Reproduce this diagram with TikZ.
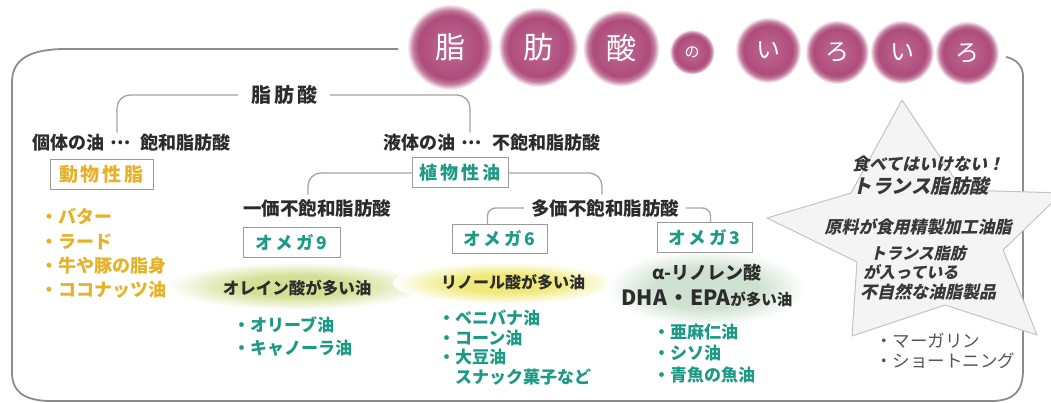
\documentclass[tikz,border=0pt]{standalone}
\usepackage{fontspec}
\setmainfont{Noto Sans CJK JP}
\newfontfamily\jpsl{Noto Sans CJK JP}[FakeSlant=0.22]
\definecolor{bubA}{HTML}{BF6892}
\definecolor{bubB}{HTML}{AE4C7B}
\definecolor{bubC}{HTML}{C27A9C}
\definecolor{glowG}{HTML}{D3E095}
\definecolor{glowY}{HTML}{F0E97A}
\definecolor{glowT}{HTML}{CFE1D0}
\definecolor{goldc}{HTML}{E6B22A}
\definecolor{tealc}{HTML}{1C9A86}
\definecolor{txt}{HTML}{2C2C2C}
\definecolor{linegray}{HTML}{A4A4A4}
\definecolor{framegray}{HTML}{8C8C8C}
\definecolor{boxgray}{HTML}{9A9A9A}
\definecolor{startxt}{HTML}{383838}
\definecolor{greyt}{HTML}{555555}
\definecolor{starfill}{HTML}{F5F4F5}
\definecolor{stardraw}{HTML}{C4C4C4}
\pgfdeclareradialshading{bubble}{\pgfpointorigin}{color(0bp)=(bubA); color(18.5bp)=(bubB); color(21.5bp)=(bubC); color(25bp)=(white); color(50bp)=(white)}
\pgfdeclareradialshading{glowg}{\pgfpointorigin}{color(0bp)=(glowG); color(11bp)=(glowG); color(25bp)=(white); color(50bp)=(white)}
\pgfdeclareradialshading{glowy}{\pgfpointorigin}{color(0bp)=(glowY); color(11bp)=(glowY); color(25bp)=(white); color(50bp)=(white)}
\pgfdeclareradialshading{glowt}{\pgfpointorigin}{color(0bp)=(glowT); color(13bp)=(glowT); color(25bp)=(white); color(50bp)=(white)}
\begin{document}
\begin{tikzpicture}[x=1pt,y=-1pt,
  every node/.style={inner sep=0pt},
  bub/.style={circle, shade, shading=bubble, text=white, font=\fontsize{30}{30}\selectfont},
  lab/.style={text=txt, font=\bfseries\fontsize{18.5}{20}\selectfont, text height=16.3pt, text depth=2.2pt},
  boxed/.style={draw=boxgray, line width=1pt, fill=white, text height=15pt, text depth=2pt, font=\bfseries\fontsize{17.5}{20}\selectfont},
  goldi/.style={anchor=west, text=goldc, font=\bfseries\fontsize{18}{20}\selectfont, text height=15.8pt, text depth=2.2pt},
  teali/.style={anchor=west, text=tealc, font=\bfseries\fontsize{17}{20}\selectfont, text height=15pt, text depth=2pt},
  greyi/.style={anchor=west, text=greyt, font=\fontsize{17.5}{20}\selectfont, text height=15.4pt, text depth=2.1pt},
  glowtxt/.style={text=txt, font=\bfseries\fontsize{16.5}{20}\selectfont, text height=14.5pt, text depth=2pt},
  brk/.style={draw=linegray, line width=1.3pt, rounded corners=13pt},
  brks/.style={draw=linegray, line width=1.3pt, rounded corners=8pt},
  frm/.style={draw=framegray, line width=1.8pt},
  sttxt/.style={text=startxt, font=\jpsl\bfseries\fontsize{17}{20}\selectfont, text height=15pt, text depth=2pt},
]
\useasboundingbox (0,0) rectangle (1051,403);
\clip (0,0) rectangle (1051,403);
\fill[white] (0,0) rectangle (1051,403);

% frame
\draw[frm] (398,49) -- (66,49) .. controls (32,49) and (12,58) .. (12,82)
  -- (12,372) .. controls (12,392) and (24,400) .. (48,401)
  -- (994,401) .. controls (1014,400) and (1023,391) .. (1023,370)
  -- (1023,76) .. controls (1023,66) and (1016,59) .. (1006,57);

% star
\filldraw[fill=starfill, draw=stardraw, line width=1pt, line join=round]
  (902,100) -- (851,193) -- (767,218) -- (857,262) -- (852,336) -- (945,305)
  -- (1037,335) -- (1003,250) -- (1062,193) -- (962,190) -- cycle;

% title bubbles
\node[bub, minimum size=86pt] (b1) at (450,47) {脂};
\node[bub, minimum size=80pt] (b2) at (538,47) {肪};
\node[bub, minimum size=77pt] (b3) at (621,48) {酸};
\node[bub, minimum size=45pt, font=\fontsize{15}{15}\selectfont] (b4) at (692,52) {の};
\node[bub, minimum size=66pt, font=\fontsize{24}{24}\selectfont] (b5) at (768,50) {い};
\node[bub, minimum size=64pt, font=\fontsize{24}{24}\selectfont] (b6) at (837,52) {ろ};
\node[bub, minimum size=64pt, font=\fontsize{24}{24}\selectfont] (b7) at (902,52) {い};
\node[bub, minimum size=64pt, font=\fontsize{24}{24}\selectfont] (b8) at (967,53) {ろ};

% glows
\shade[shading=glowg] (297,286) ellipse[x radius=130, y radius=24];
\shade[shading=glowy] (505,283) ellipse[x radius=112, y radius=21];
\shade[shading=glowt] (706,288) ellipse[x radius=100, y radius=38];

% top level
\node[lab, font=\bfseries\fontsize{20}{22}\selectfont, text height=17.6pt, text depth=2.4pt, inner xsep=13pt] (fa) at (284,95) {脂\kern3pt 肪\kern3pt 酸};
\node[lab, font=\bfseries\fontsize{18}{20}\selectfont, anchor=west] (solid) at (32,142) {個体の油};
\node[lab, font=\bfseries\fontsize{18}{20}\selectfont] (d1) at (121,142) {\raisebox{5pt}{…}};
\node[lab, font=\bfseries\fontsize{18}{20}\selectfont, anchor=west] (sat) at (140,142) {飽和脂肪酸};
\node[lab, font=\bfseries\fontsize{18}{20}\selectfont, anchor=west] (liq) at (383,142) {液体の油};
\node[lab, font=\bfseries\fontsize{18}{20}\selectfont] (d2) at (472,142) {\raisebox{5pt}{…}};
\node[lab, font=\bfseries\fontsize{18}{20}\selectfont, anchor=west] (unsat) at (492,142) {不飽和脂肪酸};

\draw[brk] (fa.west) -| ([xshift=-4pt]d1.north);
\draw[brk] (fa.east) -| ([xshift=-2pt]d2.north);

% boxes
\node[boxed, minimum width=103pt, minimum height=30pt, text=goldc, font=\bfseries\fontsize{19}{20}\selectfont] (ani) at (101.5,175) {動\kern3pt 物\kern3pt 性\kern3pt 脂};
\node[boxed, minimum width=96pt, minimum height=30pt, text=tealc, font=\bfseries\fontsize{18}{20}\selectfont] (veg) at (460,173) {植\kern3pt 物\kern3pt 性\kern3pt 油};

\node[lab] (mono) at (317,208) {一価不飽和脂肪酸};
\node[lab, inner xsep=7pt] (poly) at (605,208) {多価不飽和脂肪酸};

\draw[brk] (veg.west) -| ([xshift=-9pt,yshift=4pt]mono.north);
\draw[brk] (veg.east) -| ([xshift=-3pt,yshift=4pt]poly.north);

\node[boxed, minimum width=97pt, minimum height=29pt, text=tealc] (o9) at (291.5,242.5) {オ\kern3pt メ\kern3pt ガ\kern3pt 9};
\node[boxed, minimum width=95pt, minimum height=28pt, text=tealc] (o6) at (499.5,239) {オ\kern3pt メ\kern3pt ガ\kern3pt 6};
\node[boxed, minimum width=95pt, minimum height=29pt, text=tealc] (o3) at (704.5,237.5) {オ\kern3pt メ\kern3pt ガ\kern3pt 3};

\draw[brks] (poly.west) -| ([xshift=-12pt]o6.north);
\draw[brks] (poly.east) -| ([xshift=6pt]o3.north);

% glow texts
\node[glowtxt] (g9) at (297,288) {オレイン酸が多い油};
\node[glowtxt, font=\bfseries\fontsize{16}{20}\selectfont] (g6) at (513,282) {リノール酸が多い油};
\node[glowtxt, font=\bfseries\fontsize{18}{20}\selectfont, text height=15.8pt, text depth=2.2pt] (g3a) at (707,273) {α-リノレン酸};
\node[glowtxt, font=\bfseries\fontsize{21}{22}\selectfont, text height=18pt, text depth=2.5pt] (g3b) at (707,298) {DHA\kern1pt・\kern1pt EPA{\fontsize{15.5}{20}\selectfont が多い油}};

% gold list
\node[goldi] (a1) at (40,217) {・バター};
\node[goldi] (a2) at (40,242) {・ラード};
\node[goldi] (a3) at (40,266) {・牛や豚の脂身};
\node[goldi] (a4) at (40,290) {・ココナッツ油};

% omega 9 list
\node[teali] (n1) at (233,325) {・オリーブ油};
\node[teali] (n2) at (233,348) {・キャノーラ油};

% omega 6 list
\node[teali] (s1) at (438,318) {・ベニバナ油};
\node[teali] (s2) at (438,338) {・コーン油};
\node[teali] (s3) at (438,357) {・大豆油};
\node[teali] (s4) at (455,377) {スナック菓子など};

% omega 3 list
\node[teali] (t1) at (653,332) {・亜麻仁油};
\node[teali] (t2) at (653,353) {・シソ油};
\node[teali] (t3) at (653,375) {・青魚の魚油};

% star texts
\node[sttxt] (st1) at (928,164) {食べてはいけない！};
\node[sttxt, font=\jpsl\bfseries\fontsize{19.5}{22}\selectfont, text height=17pt, text depth=2.4pt] (st2) at (921,186) {トランス脂肪酸};
\node[sttxt] (st3) at (918,227) {原料が食用精製加工油脂};
\node[sttxt, font=\jpsl\bfseries\fontsize{16}{20}\selectfont, anchor=west] (st4) at (870,253) {トランス脂肪};
\node[sttxt, font=\jpsl\bfseries\fontsize{16}{20}\selectfont, anchor=west] (st5) at (863,272) {が入っている};
\node[sttxt, anchor=west] (st6) at (860,292) {不自然な油脂製品};

% trans list
\node[greyi] (m1) at (875,341) {・マーガリン};
\node[greyi] (m2) at (875,361) {・ショートニング};
\end{tikzpicture}
\end{document}
